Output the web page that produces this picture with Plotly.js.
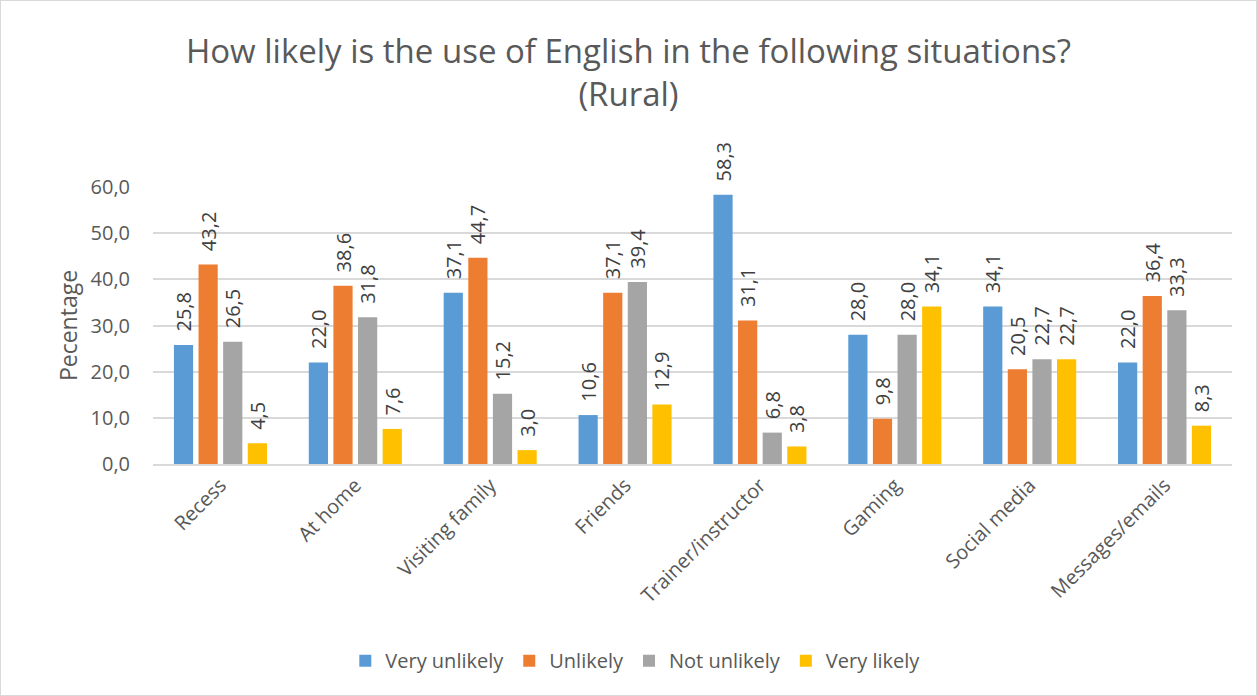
<!DOCTYPE html>
<html>
<head>
<meta charset="utf-8">
<script src="https://cdn.plot.ly/plotly-3.0.1.min.js"></script>
<style>
html,body{margin:0;padding:0;background:#fff;}
#chart{width:1255px;height:694px;border:1px solid #D9D9D9;}
</style>
</head>
<body>
<div id="chart"></div>
<script>
const categories = ["Recess","At home","Visiting family","Friends","Trainer/instructor","Gaming","Social media","Messages/emails"];
const seriesNames = ["Very unlikely","Unlikely","Not unlikely","Very likely"];
const veryUnlikely = [25.8,22.0,37.1,10.6,58.3,28.0,34.1,22.0];
const unlikely = [43.2,38.6,44.7,37.1,31.1,9.8,20.5,36.4];
const notUnlikely = [26.5,31.8,15.2,39.4,6.8,28.0,22.7,33.3];
const veryLikely = [4.5,7.6,3.0,12.9,3.8,34.1,22.7,8.3];
const colors = ["#5B9BD5","#ED7D31","#A5A5A5","#FFC000"];

const FONT = '"Open Sans", "Segoe UI", sans-serif';
const values = [veryUnlikely, unlikely, notUnlikely, veryLikely];
const traces = values.map((v,i)=>({
  type:'bar',
  name: seriesNames[i],
  x: categories,
  y: v,
  marker:{color:colors[i]},
  texttemplate:'\u00a0\u00a0%{y:.1f}',
  textposition:'outside',
  textangle:-90,
  constraintext:'none',
  cliponaxis:false,
  textfont:{family:FONT, size:20, color:'#404040'},
  hoverinfo:'x+y'
}));

const layout = {
  width:1255, height:694,
  separators:',.',
  paper_bgcolor:'#fff', plot_bgcolor:'#fff',
  margin:{l:152,r:24,t:186,b:231},
  font:{family:FONT, color:'#595959', size:20},
  title:{text:'How likely is the use of English in the following situations?<br>(Rural)', x:0.5, xanchor:'center', yref:'container', y:0.91, yanchor:'middle', font:{size:33, color:'#595959'}},
  barmode:'group',
  bargap:0.27,
  bargroupgap:0.22,
  xaxis:{tickangle:-45, showgrid:false, showline:true, linecolor:'#D9D9D9', linewidth:1.5, ticks:'', tickfont:{size:20,color:'#595959'}},
  yaxis:{range:[0,60], dtick:10, tickformat:'.1f', gridcolor:'#D9D9D9', gridwidth:1.5, zeroline:false, showline:false, ticks:'', ticklabelstandoff:22, tickfont:{size:20,color:'#595959'},
    title:{text:'Pecentage', font:{size:23,color:'#595959'}, standoff:6}},
  legend:{orientation:'h', x:0.447, xanchor:'center', y:-0.71, yanchor:'middle', font:{size:20,color:'#595959'}},
  showlegend:true
};
Plotly.newPlot('chart', traces, layout, {displayModeBar:false});
</script>
</body>
</html>
